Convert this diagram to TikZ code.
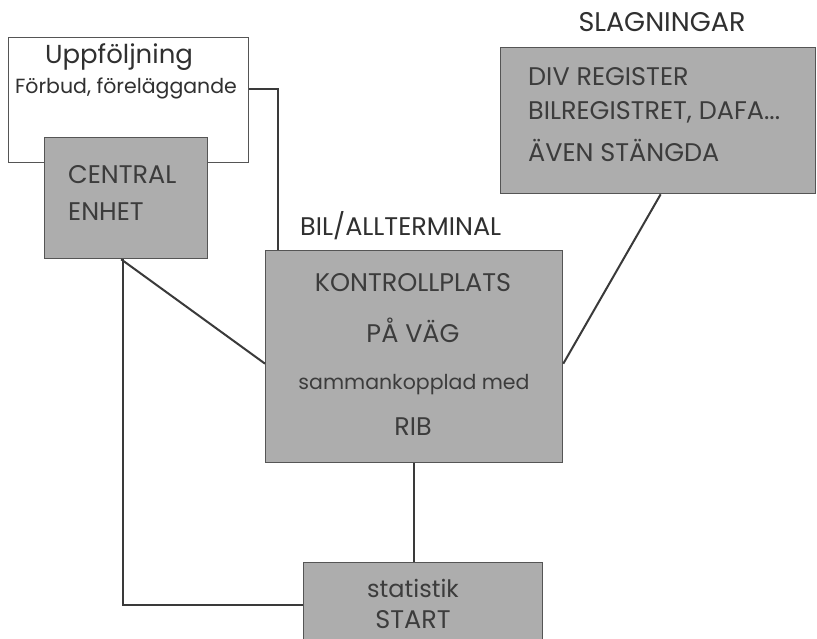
\documentclass[tikz,border=0pt]{standalone}
\usepackage{fontspec}
\setmainfont{Poppins}
\begin{document}
\begin{tikzpicture}[x=1pt,y=-1pt,
  box/.style={draw=boxline, line width=1.3pt, fill=boxgray, inner sep=0pt, anchor=north west},
  whitebox/.style={box, fill=white},
  wire/.style={draw=wirecol, line width=2pt},
  lbl/.style={inner sep=0pt, text=inkgray},
  big/.style={lbl, font=\fontsize{25.5}{28}\selectfont},
  head/.style={lbl, text=inkdark, font=\fontsize{27}{30}\selectfont},
  lower/.style={lbl, font=\fontsize{24}{28}\selectfont},
  small/.style={lbl, font=\fontsize{20.5}{24}\selectfont}]
\definecolor{boxgray}{HTML}{ADADAD}
\definecolor{boxline}{HTML}{555555}
\definecolor{wirecol}{HTML}{3A3A3A}
\definecolor{inkgray}{HTML}{3C3C3C}
\definecolor{inkdark}{HTML}{303030}
\clip (0,0) rectangle (817,638);
\fill[white] (0,0) rectangle (817,638);

% boxes (north west corner, width x height)
\node[whitebox, minimum width=240pt, minimum height=125pt] (upp) at (8,37) {};
\node[box, minimum width=163pt, minimum height=121pt] (cen) at (44,137) {};
\node[box, minimum width=297pt, minimum height=212pt] (kon) at (265,250) {};
\node[box, minimum width=315pt, minimum height=146pt] (sla) at (500,47) {};
\node[box, minimum width=239pt, minimum height=100pt] (sta) at (303,562) {};

% connectors
\draw[wire] ([yshift=11.5pt]upp.east) -| ([xshift=13pt]kon.north west);
\draw[wire] ([xshift=-5pt]cen.south) -- ([yshift=-7pt]kon.west);
\draw[wire] ([xshift=2.5pt]sla.south) -- ([yshift=-7pt]kon.east);
\draw[wire] ([xshift=-3pt]cen.south) |- ([yshift=8pt]sta.west);
\draw[wire] (kon.south) -- (kon.south |- sta.north);

% texts
\node[lower, text=inkdark, font=\fontsize{26}{30}\selectfont] (t1) at (119,57) {Uppföljning};
\node[small, text=inkdark] (t2) at (126,88) {Förbud, föreläggande};
\node[big, anchor=west] (t3) at (68,175) {CENTRAL};
\node[big, anchor=west] (t4) at (68,212) {ENHET};
\node[head, font=\fontsize{25.5}{28}\selectfont, anchor=west] (t5) at (300,226) {BIL/ALLTERMINAL};
\node[head] (t6) at (662,22) {SLAGNINGAR};
\node[big, anchor=west] (t7) at (528,77) {DIV REGISTER};
\node[big, anchor=west] (t8) at (528,112) {BILREGISTRET, DAFA...};
\node[big, anchor=west] (t9) at (528,150) {ÄVEN STÄNGDA};
\node[big] (t10) at (413,283) {KONTROLLPLATS};
\node[big] (t11) at (413,330) {PÅ VÄG};
\node[small] (t12) at (414,385) {sammankopplad med};
\node[big] (t13) at (413,427) {RIB};
\node[lower] (t14) at (413,588) {statistik};
\node[big] (t15) at (413,620) {START};
\end{tikzpicture}
\end{document}
